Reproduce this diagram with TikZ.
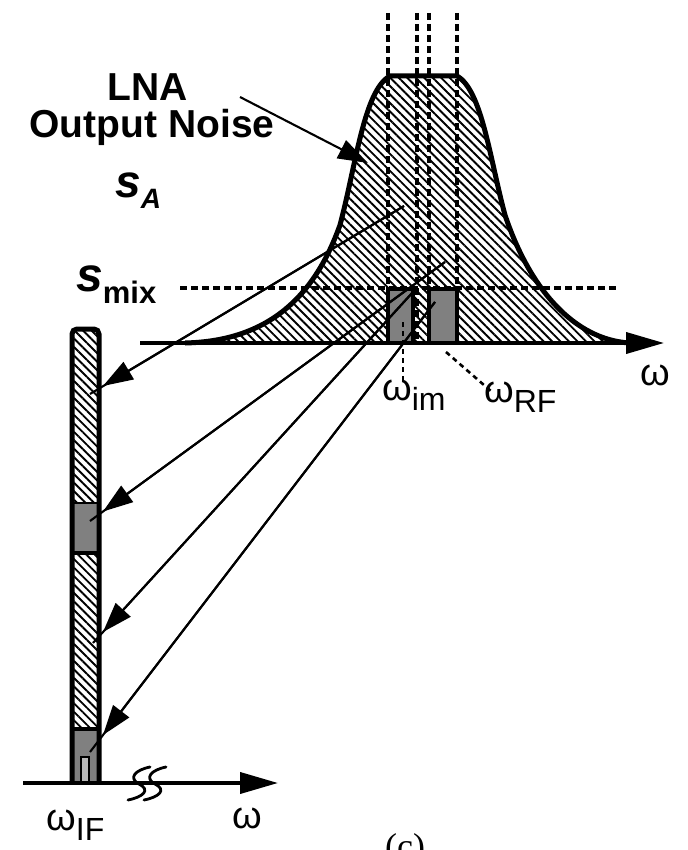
\documentclass[tikz,border=0pt]{standalone}
\usepackage{fontspec}
\setmainfont{Liberation Sans}
\newfontfamily\serifc{Liberation Serif}
\usetikzlibrary{arrows.meta,patterns.meta}
\tikzset{
  hatch/.style={pattern={Lines[angle=-45,distance=6pt,line width=1.9pt]}},
  curveline/.style={line width=5pt},
  dashv/.style={line width=3.2pt, dash pattern=on 7pt off 4pt},
  thindash/.style={line width=2.6pt, dash pattern=on 5pt off 4pt},
  bigarrow/.style={-{Triangle[length=30pt,width=20pt]}},
  feed/.style={line width=2.1pt},
  axisarrow/.style={line width=3.8pt,-{Triangle[length=38pt,width=21pt]}},
  graybox/.style={fill=gray, draw=black, line width=4.5pt},
  lbl/.style={inner sep=0pt, anchor=base},
}
\newcommand{\om}{{\fontsize{38}{40}\selectfont ω}}
\newcommand{\subs}[1]{{\fontsize{32}{34}\selectfont #1}}
\begin{document}
\begin{tikzpicture}[x=1pt,y=-1pt]
\useasboundingbox (0,0) rectangle (687,850);
% ---------- top spectrum ----------
\path[hatch] (185,343) .. controls (270,341) and (315,295) .. (340,225)
  .. controls (356,165) and (364,90) .. (390,76) -- (457,76)
  .. controls (482,90) and (490,160) .. (505,215)
  .. controls (530,290) and (575,340) .. (630,343) -- cycle;
\foreach \xx in {388,417,429,457}{
  \draw[dashv] (\xx,13) -- (\xx,343);
}
\draw[graybox] (388,289) rectangle (413,343);
\draw[graybox] (429,289) rectangle (457,343);
\draw[curveline, line join=round] (185,343) .. controls (270,341) and (315,295) .. (340,225)
  .. controls (356,165) and (364,90) .. (390,76) -- (457,76)
  .. controls (482,90) and (490,160) .. (505,215)
  .. controls (530,290) and (575,340) .. (630,343);
\draw[dashv] (180,288) -- (618,288);
\coordinate (ta0) at (140,343);
\coordinate (ta1) at (664,343);
\draw[axisarrow] (ta0) -- (ta1);
\draw[thindash] (403,322) -- (403,382);
\draw[thindash] (446,352) -- (492,392);
% ---------- left bar ----------
\path[hatch] (72,783) rectangle (99,329);
\fill[gray] (72,503) rectangle (99,553);
\fill[gray] (72,729) rectangle (99,783);
\draw[line width=1.6pt, fill=gray!55] (81,783) -- (81,757) -- (89,757) -- (89,783);
\draw[line width=2.2pt] (72,503) -- (99,503);
\draw[line width=4.5pt] (72,553) -- (99,553);
\draw[line width=4.5pt] (72,729) -- (99,729);
\draw[line width=5pt, rounded corners=5pt] (72,783) -- (72,329) -- (99,329) -- (99,783);
% bottom axis
\coordinate (ba0) at (23,783);
\coordinate (ba1) at (278,783);
\draw[axisarrow] (ba0) -- (ba1);
\foreach \bx in {139,155}{
  \draw[line width=2.8pt, line cap=round] (\bx-11,800) .. controls (\bx+4,797) and (\bx+12,790) .. (\bx,784)
    .. controls (\bx-11,778) and (\bx-4,770) .. (\bx+11,767);
}
% ---------- mapping arrows ----------
\coordinate (s1) at (404,206); \coordinate (e1) at (90,394);   \coordinate (t1) at (103,386);
\coordinate (s2) at (445,262); \coordinate (e2) at (90,521);   \coordinate (t2) at (103,511.5);
\coordinate (s3) at (413,292); \coordinate (e3) at (93,643);   \coordinate (t3) at (103,632);
\coordinate (s4) at (435,302); \coordinate (e4) at (90,752);   \coordinate (t4) at (103,735);
\foreach \k in {1,2,3,4}{
  \draw[feed] (s\k) -- (e\k);
  \draw[feed, bigarrow] (s\k) -- (t\k);
}
% LNA arrow
\coordinate (la0) at (240,97);
\coordinate (la1) at (368,163);
\draw[feed, bigarrow] (la0) -- (la1);
% ---------- labels ----------
\node[lbl, font=\bfseries\fontsize{39}{44}\selectfont] (lna) at (148,101) {LNA};
\node[lbl, font=\bfseries\fontsize{39}{44}\selectfont] (out) at (152,138) {Output Noise};
\node[lbl, anchor=base west] (sa) at (115,198) {\fontsize{46}{50}\selectfont\bfseries\itshape s\raisebox{-10pt}{\fontsize{28}{30}\selectfont A}};
\node[lbl, anchor=base west] (smix) at (76,291) {\fontsize{48}{52}\selectfont\bfseries\itshape s\raisebox{-12pt}{\upshape\fontsize{31}{33}\selectfont mix}};
\node[lbl, anchor=base west] (wim) at (382,400) {\om\raisebox{-10pt}{\subs{im}}};
\node[lbl, anchor=base west] (wrf) at (484,402) {\om\raisebox{-10pt}{\subs{RF}}};
\node[lbl, anchor=base west] (wr) at (640,385) {\om};
\node[lbl, anchor=base west] (wif) at (46,830) {\om\raisebox{-10pt}{\subs{IF}}};
\node[lbl, anchor=base west] (wb) at (232,828) {\om};
\node[lbl] (cap) at (405,858) {\serifc\fontsize{36}{40}\selectfont (c)};
\end{tikzpicture}
\end{document}
